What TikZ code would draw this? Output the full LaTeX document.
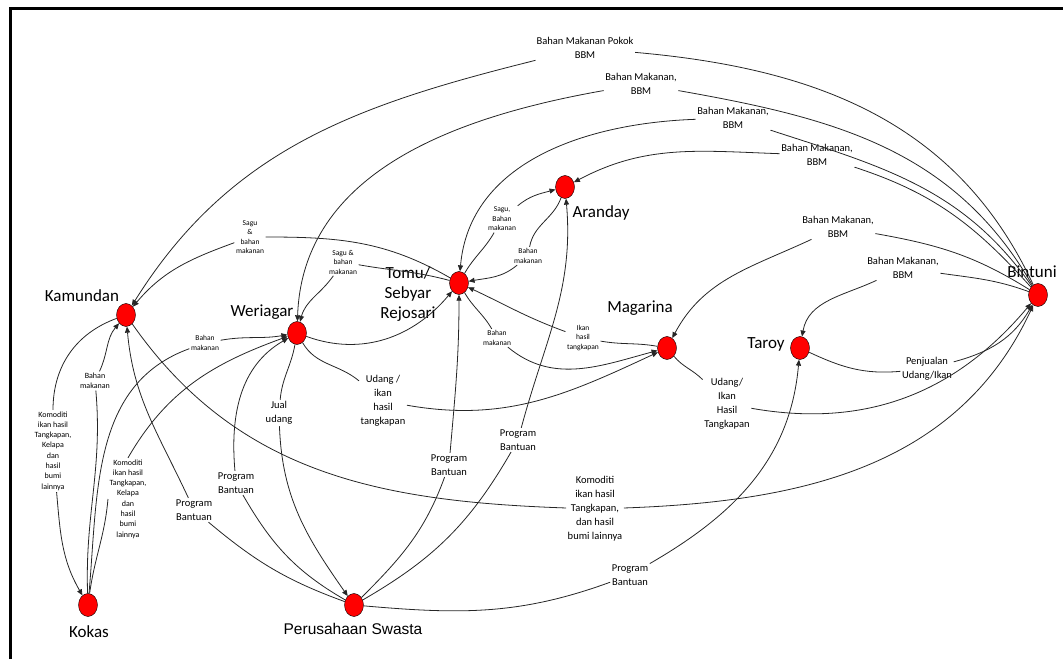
\documentclass[tikz,border=0pt]{standalone}
\usepackage{fontspec}
\setmainfont{Carlito}
\newfontfamily\arialfont{Liberation Sans}
\usepackage{tikz}
\usetikzlibrary{shapes.geometric, arrows.meta, positioning}
\tikzstyle{place} = [ellipse, draw=black, fill=red, minimum width=19pt, minimum height=23pt, inner sep=0pt]
\tikzstyle{placename} = [font=\fontsize{17}{20}\selectfont, align=center, inner sep=0pt]
\tikzstyle{flowlabel} = [font=\fontsize{10.5}{14}\selectfont, align=center, inner sep=1.5pt]
\tikzstyle{smalllabel} = [font=\fontsize{8}{10.3}\selectfont, align=center, inner sep=1.5pt]
\tikzstyle{tinylabel} = [font=\fontsize{7.5}{9.5}\selectfont, align=center, inner sep=1.5pt]
\tikzstyle{arrow} = [draw=black!85, line width=0.8pt, -{Triangle[length=6pt,width=5pt]}]

\begin{document}
\begin{tikzpicture}[x=1pt, y=1pt]
\useasboundingbox (0,0) rectangle (1063,659);
\draw[line width=3pt] (10,0) -- (10,650.5) -- (1063,650.5);

% Places
\node (kamundan) [place] at (126,344) {};
\node (weriagar) [place] at (297,326) {};
\node (tomu) [place] at (459,376) {};
\node (aranday) [place] at (565,472) {};
\node (magarina) [place] at (667,311) {};
\node (taroy) [place] at (800,311) {};
\node (bintuni) [place] at (1038,364) {};
\node (kokas) [place] at (88,54) {};
\node (swasta) [place] at (354,54) {};

% Place names
\node (kamundanname) [placename] at (82,363) {Kamundan};
\node (weriagarname) [placename] at (262,347) {Weriagar};
\node (tomuname) [placename] at (408,365) {Tomu/\\Sebyar\\Rejosari};
\node (arandayname) [placename] at (601,446) {Aranday};
\node (magarinaname) [placename] at (640,351) {Magarina};
\node (taroyname) [placename] at (766,315) {Taroy};
\node (bintuniname) [placename] at (1032,387) {Bintuni};
\node (kokasname) [placename] at (89,27) {Kokas};
\node (swastaname) [placename, font=\arialfont\fontsize{15.5}{18}\selectfont] at (353,30) {Perusahaan Swasta};

% Flow labels
\node (bbmkamundan) [flowlabel] at (585,611) {Bahan Makanan Pokok\\BBM};
\node (bbmweriagar) [flowlabel] at (641,575) {Bahan Makanan,\\BBM};
\node (bbmtomu) [flowlabel] at (733,541) {Bahan Makanan,\\BBM};
\node (bbmaranday) [flowlabel] at (817,504) {Bahan Makanan,\\BBM};
\node (bbmmagarina) [flowlabel] at (838,432) {Bahan Makanan,\\BBM};
\node (bbmtaroy) [flowlabel] at (903,391) {Bahan Makanan,\\BBM};
\node (jualtaroy) [flowlabel] at (927,290) {Penjualan\\Udang/Ikan};
\node (udangmagarina) [flowlabel] at (727,255) {Udang/\\Ikan\\Hasil\\Tangkapan};
\node (komkamundan) [flowlabel] at (595,150) {Komoditi\\ikan hasil\\Tangkapan,\\dan hasil\\bumi lainnya};
\node (sagukamundan) [tinylabel] at (250,422) {Sagu\\\&\\bahan\\makanan};
\node (saguweriagar) [tinylabel] at (343,397) {Sagu \&\\bahan\\makanan};
\node (bahanaranday) [tinylabel] at (528,403) {Bahan\\makanan};
\node (saguaranday) [tinylabel] at (502,440) {Sagu,\\Bahan\\makanan};
\node (ikanmagarina) [tinylabel] at (583,321) {Ikan\\hasil\\tangkapan};
\node (bahanmagarina) [tinylabel] at (497,321) {Bahan\\makanan};
\node (udangweriagar) [flowlabel] at (383,258) {Udang /\\ikan\\hasil\\tangkapan};
\node (bantuantomu) [flowlabel] at (449,194) {Program\\Bantuan};
\node (bantuanaranday) [flowlabel] at (518,219) {Program\\Bantuan};
\node (bantuantaroy) [flowlabel] at (630,84) {Program\\Bantuan};
\node (jualudang) [flowlabel] at (279,246) {Jual\\udang};
\node (bantuanweriagar) [flowlabel] at (236,176) {Program\\Bantuan};
\node (komkokas) [smalllabel] at (53,208) {Komoditi\\ikan hasil\\Tangkapan,\\Kelapa\\dan\\hasil\\bumi\\lainnya};
\node (bahankamundan) [smalllabel] at (95,278) {Bahan\\makanan};
\node (bantuankamundan) [flowlabel] at (194,149) {Program\\Bantuan};
\node (bahanweriagar) [tinylabel] at (205,316) {Bahan\\makanan};
\node (komweriagar) [smalllabel] at (128,160) {Komoditi\\ikan hasil\\Tangkapan,\\Kelapa\\dan\\hasil\\bumi\\lainnya};

% Arrows from Bintuni
\draw [arrow] (bintuni) to[out=115,in=-5] (bbmkamundan) to[out=194,in=58] (kamundan);
\draw [arrow] (bintuni) to[out=120,in=-10] (bbmweriagar) to[out=190,in=88] (weriagar);
\draw [arrow] (bintuni) to[out=125,in=-18] (bbmtomu) to[out=182,in=85] (tomu);
\draw [arrow] (bintuni) to[out=132,in=-18] (bbmaranday) to[out=178,in=28] (aranday);
\draw [arrow] (bintuni) to[out=148,in=-10] (bbmmagarina) to[out=205,in=62] (magarina);
\draw [arrow] (bintuni) to[out=160,in=-8] (bbmtaroy) to[out=205,in=80] (taroy);

% Arrows into Bintuni
\draw [arrow] (taroy) to[out=-25,in=185] (jualtaroy) to[out=15,in=240] (bintuni);
\draw [arrow] (magarina) to[out=-50,in=135] (udangmagarina) to[out=-10,in=230] (bintuni);
\draw [arrow] (kamundan) to[out=-55,in=178] (komkamundan) to[out=2,in=245] (bintuni);

% Arrows around Tomu
\draw [arrow] (tomu) to[out=150,in=0] (sagukamundan) to[out=200,in=50] (kamundan);
\draw [arrow] (tomu) to[out=165,in=-10] (saguweriagar) to[out=235,in=75] (weriagar);
\draw [arrow] (weriagar) to[out=-20,in=230] (tomu);
\draw [arrow] (aranday) to[out=250,in=80] (bahanaranday) to[out=220,in=10] (tomu);
\draw [arrow] (tomu) to[out=60,in=240] (saguaranday) to[out=40,in=195] (aranday);
\draw [arrow] (magarina) to[out=170,in=-10] (ikanmagarina) to[out=160,in=-25] (tomu);
\draw [arrow] (tomu) to[out=-60,in=120] (bahanmagarina) to[out=-40,in=195] (magarina);
\draw [arrow] (weriagar) to[out=-60,in=140] (udangweriagar) to[out=-10,in=205] (magarina);

% Arrows from Perusahaan Swasta
\draw [arrow] (swasta) to[out=45,in=250] (bantuantomu) to[out=85,in=-90] (tomu);
\draw [arrow] (swasta) to[out=30,in=240] (bantuanaranday) to[out=75,in=-85] (aranday);
\draw [arrow] (swasta) to[out=-5,in=200] (bantuantaroy) to[out=30,in=-95] (taroy);
\draw [arrow] (weriagar) to[out=260,in=85] (jualudang) to[out=-88,in=125] (swasta);
\draw [arrow] (swasta) to[out=150,in=-60] (bantuanweriagar) to[out=95,in=210] (weriagar);
\draw [arrow] (swasta) to[out=160,in=-40] (bantuankamundan) to[out=115,in=-85] (kamundan);

% Arrows around Kokas
\draw [arrow] (kamundan) to[out=200,in=90] (komkokas) to[out=-85,in=120] (kokas);
\draw [arrow] (kokas) to[out=92,in=-85] (bahankamundan) to[out=65,in=230] (kamundan);
\draw [arrow] (kokas) to[out=85,in=200] (bahanweriagar) to[out=10,in=190] (weriagar);
\draw [arrow] (kokas) to[out=82,in=-95] (komweriagar.west) (komweriagar.north) to[out=60,in=200] (weriagar);

\end{tikzpicture}
\end{document}
